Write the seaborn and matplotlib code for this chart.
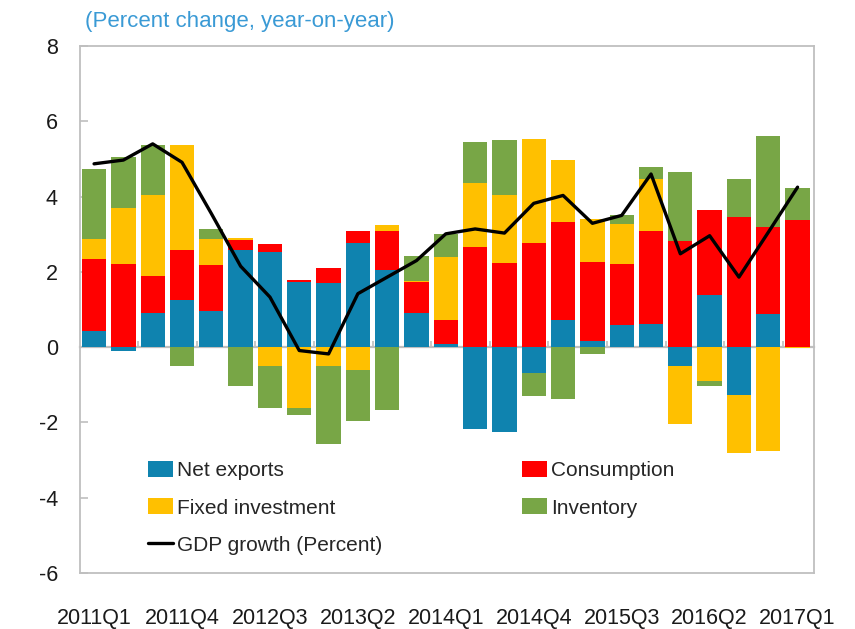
import numpy as np
import pandas as pd
import matplotlib
matplotlib.use("Agg")
import matplotlib.pyplot as plt
from matplotlib.patches import Patch
from matplotlib.lines import Line2D
import seaborn as sns

# ---------------- data ----------------
quarters = [f"{y}Q{q}" for y in range(2011, 2018) for q in range(1, 5)][:25]
net_exports = [0.44, -0.09, 0.91, 1.26, 0.96, 2.58, 2.54, 1.73, 1.71, 2.76, 2.04, 0.91, 0.09,
               -2.17, -2.26, -0.69, 0.73, 0.16, 0.60, 0.62, -0.51, 1.39, -1.26, 0.88, 0.00]
consumption = [1.91, 2.21, 0.97, 1.32, 1.21, 0.27, 0.20, 0.06, 0.39, 0.32, 1.04, 0.82, 0.62,
               2.65, 2.23, 2.77, 2.59, 2.10, 1.61, 2.46, 2.83, 2.26, 3.45, 2.32, 3.39]
fixed_investment = [0.51, 1.48, 2.17, 2.79, 0.71, 0.05, -0.51, -1.61, -0.51, -0.62, 0.16, 0.04, 1.68,
                    1.71, 1.80, 2.76, 1.65, 1.15, 1.06, 1.39, -1.54, -0.90, -1.55, -2.76, -0.03]
inventory = [1.87, 1.37, 1.33, -0.49, 0.26, -1.02, -1.10, -0.20, -2.06, -1.35, -1.66, 0.64, 0.62,
             1.10, 1.47, -0.62, -1.37, -0.19, 0.23, 0.31, 1.82, -0.12, 1.02, 2.42, 0.84]
gdp_growth = [4.87, 4.97, 5.40, 4.91, 3.55, 2.15, 1.33, -0.09, -0.18, 1.42, 1.86, 2.30, 3.01,
              3.14, 3.03, 3.82, 4.03, 3.29, 3.50, 4.60, 2.48, 2.96, 1.86, 3.05, 4.25]

series_names = ["Net exports", "Consumption", "Fixed investment", "Inventory"]
series_values = [net_exports, consumption, fixed_investment, inventory]
series_colors = ["#0F83AF", "#FF0000", "#FFC000", "#78A646"]
tick_labels = quarters[::3]
title_text = "(Percent change, year-on-year)"

# ---------------- style ----------------
sns.set_style("white")
plt.rcParams["font.family"] = ["Liberation Sans", "DejaVu Sans"]
GRAY = "#BFBFBF"

fig = plt.figure(figsize=(8.55, 6.29), dpi=100)
ax = fig.add_axes([80 / 855, 1 - 573 / 629, (814 - 80) / 855, (573 - 46) / 629])

pos_bottom = np.zeros(len(quarters))
neg_bottom = np.zeros(len(quarters))
for name, vals, col in zip(series_names, series_values, series_colors):
    v = np.array(vals, dtype=float)
    bottom = np.where(v >= 0, pos_bottom, neg_bottom)
    df = pd.DataFrame({"quarter": quarters, "value": v})
    sns.barplot(data=df, x="quarter", y="value", order=quarters, color=col,
                saturation=1, width=0.83, errorbar=None, bottom=bottom,
                linewidth=0, ax=ax, zorder=2)
    pos_bottom = pos_bottom + np.where(v >= 0, v, 0)
    neg_bottom = neg_bottom + np.where(v < 0, v, 0)

sns.lineplot(x=np.arange(len(quarters)), y=gdp_growth, color="black", linewidth=2.4,
             ax=ax, zorder=4)

ax.set_ylim(-6, 8)
ax.set_xlim(-0.48, len(quarters) - 0.44)
ax.set_yticks(range(-6, 9, 2))
ax.set_yticklabels([str(t) for t in range(-6, 9, 2)])
ax.set_xticks(range(0, len(quarters), 3))
ax.set_xticklabels(tick_labels)
ax.set_xlabel("")
ax.set_ylabel("")

for sp in ax.spines.values():
    sp.set_visible(True)
    sp.set_color(GRAY)
    sp.set_linewidth(1.3)

ax.tick_params(axis="y", direction="in", length=6, width=1.2, color=GRAY,
               labelsize=15.5, labelcolor="#1A1A1A", pad=16, left=True)
ax.tick_params(axis="x", length=0, labelsize=15.5, labelcolor="#1A1A1A", pad=25)

# zero line with small category tick marks
zero_loc = (0 - (-6)) / 14
sec = ax.secondary_xaxis(zero_loc)
sec.spines["bottom"].set_color(GRAY)
sec.spines["bottom"].set_linewidth(1.6)
sec.set_xticks(np.arange(1.5, len(quarters) - 1, 2))
sec.tick_params(axis="x", direction="in", length=4, width=1.2, color=GRAY, labelbottom=False)

# title
fig.text(85 / 855, 1 - 21 / 629, title_text, color="#3A9AD5", fontsize=16,
         ha="left", va="center")

# legend
handles = [Patch(facecolor=series_colors[0], edgecolor="none"),
           Patch(facecolor=series_colors[2], edgecolor="none"),
           Line2D([0], [0], color="black", linewidth=2.4),
           Patch(facecolor=series_colors[1], edgecolor="none"),
           Patch(facecolor=series_colors[3], edgecolor="none")]
labels = ["Net exports", "Fixed investment", "GDP growth (Percent)", "Consumption", "Inventory"]
fig.legend(handles, labels, loc="upper left", bbox_to_anchor=(148 / 855, 1 - 461 / 629),
           ncol=2, frameon=False, fontsize=15, handlelength=1.2, handleheight=0.82,
           handletextpad=0.2, columnspacing=6.7, labelspacing=0.86, borderpad=0,
           borderaxespad=0)

fig.savefig("out.png", dpi=100)
